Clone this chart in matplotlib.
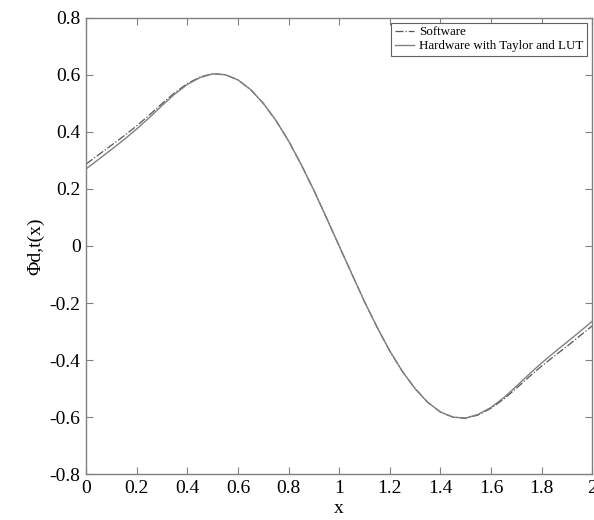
"""Software vs hardware (Taylor + LUT) evaluation of the wavelet-like function."""
import matplotlib
matplotlib.use("Agg")
import matplotlib.pyplot as plt
from matplotlib.ticker import FormatStrFormatter

# values, step 0.05 in x
x = [0.00, 0.05, 0.10, 0.15, 0.20, 0.25, 0.30, 0.35, 0.40, 0.45, 0.50,
     0.55, 0.60, 0.65, 0.70, 0.75, 0.80, 0.85, 0.90, 0.95, 1.00,
     1.05, 1.10, 1.15, 1.20, 1.25, 1.30, 1.35, 1.40, 1.45, 1.50,
     1.55, 1.60, 1.65, 1.70, 1.75, 1.80, 1.85, 1.90, 1.95, 2.00]

hardware = [0.270, 0.304, 0.338, 0.373, 0.410, 0.450, 0.492, 0.532, 0.566, 0.590, 0.603,
            0.600, 0.582, 0.548, 0.500, 0.440, 0.368, 0.285, 0.195, 0.098, 0.000,
            -0.098, -0.195, -0.285, -0.368, -0.440, -0.500, -0.548, -0.582, -0.600, -0.603,
            -0.590, -0.566, -0.532, -0.492, -0.450, -0.410, -0.373, -0.337, -0.301, -0.264]

software = [0.287, 0.320, 0.353, 0.386, 0.421, 0.459, 0.499, 0.537, 0.569, 0.592, 0.604,
            0.600, 0.582, 0.548, 0.500, 0.440, 0.368, 0.285, 0.195, 0.098, 0.000,
            -0.098, -0.195, -0.285, -0.368, -0.440, -0.500, -0.548, -0.582, -0.600, -0.604,
            -0.592, -0.569, -0.537, -0.499, -0.459, -0.421, -0.386, -0.352, -0.316, -0.280]

labels = ["Software", "Hardware with Taylor and LUT"]

plt.rcParams["font.family"] = ["Liberation Serif", "DejaVu Serif"]
plt.rcParams["axes.unicode_minus"] = False

fig = plt.figure(figsize=(5.94, 5.2), dpi=100)
ax = fig.add_axes([0.145, 0.088, 0.852, 0.878])

ax.plot(x, software, color="#555555", lw=0.9, ls="-.", label=labels[0])
ax.plot(x, hardware, color="#808080", lw=1.0, ls="-", label=labels[1])

ax.set_xlim(0, 2)
ax.set_ylim(-0.8, 0.8)
ax.set_xticks([i * 0.2 for i in range(11)])
ax.set_yticks([-0.8 + i * 0.2 for i in range(9)])
ax.xaxis.set_major_formatter(FormatStrFormatter("%g"))
ax.yaxis.set_major_formatter(FormatStrFormatter("%g"))
ax.tick_params(direction="in", length=5, width=0.8, color="#808080",
               top=True, right=True, labelsize=14, pad=4)
for s in ax.spines.values():
    s.set_color("#808080")
    s.set_linewidth(1.0)

ax.set_xlabel("x", fontsize=14, labelpad=2)
ax.set_ylabel("Φd,t(x)", fontsize=14, labelpad=4)

leg = ax.legend(loc="upper right", fontsize=9.4, fancybox=False, framealpha=1,
                edgecolor="#606060", handlelength=1.5, handletextpad=0.4,
                borderpad=0.25, labelspacing=0.15, borderaxespad=0.4)
leg.get_frame().set_linewidth(0.8)

fig.savefig("out.png", dpi=100)
